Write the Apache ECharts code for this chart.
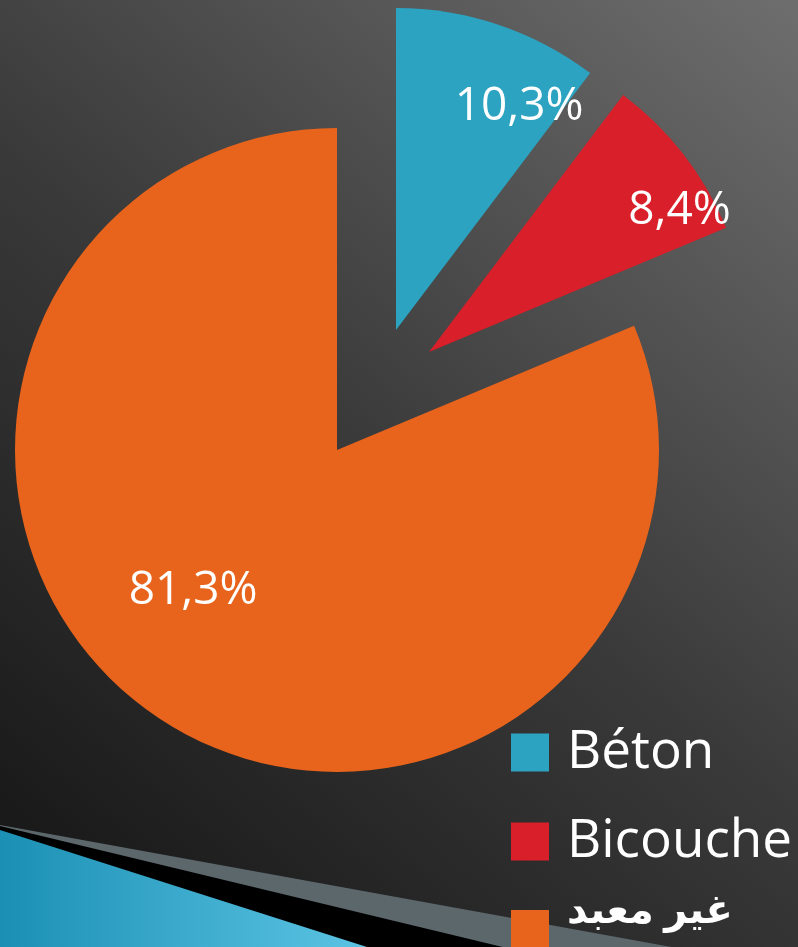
<!DOCTYPE html>
<html>
<head>
<meta charset="utf-8">
<script src="https://cdn.jsdelivr.net/npm/echarts@6/dist/echarts.min.js"></script>
<style>
html,body{margin:0;padding:0;background:#2a2a2a;}
#chart{width:798px;height:947px;}
</style>
</head>
<body>
<div id="chart"></div>
<script>
// ---- data ----
const categories = ['Béton', 'Bicouche', 'غير معبد'];
const values = [10.3, 8.4, 81.3];
const colors = ['#2ca3c1', '#d91f29', '#e8641c'];

// ---- layout (exploded slices use their own centres) ----
const sliceCenters = [[396, 330], [429, 352], [337, 450]];
const labelOffsets = [[71, -68], [121, -41], [-53, 4]];
const pieRadius = 322;
const legendTops = [726, 815, 892];
const legendFont = [53, 53, 40];
const legendTextLift = [0, 0, 34];

const fmt = v => v.toFixed(1).replace('.', ',') + '%';

const chart = echarts.init(document.getElementById('chart'), null, {renderer: 'canvas'});

const series = categories.map((cat, k) => ({
  type: 'pie',
  center: sliceCenters[k],
  radius: pieRadius,
  startAngle: 90,
  clockwise: true,
  silent: true,
  avoidLabelOverlap: false,
  animation: false,
  labelLine: {show: false},
  label: {
    position: 'inside',
    offset: labelOffsets[k],
    color: '#ffffff',
    fontSize: 46,
    fontFamily: 'Open Sans, Noto Sans, sans-serif',
    formatter: p => fmt(p.value)
  },
  emphasis: {disabled: true},
  data: categories.map((n, i) => ({
    name: n,
    value: values[i],
    itemStyle: {color: i === k ? colors[i] : 'rgba(0,0,0,0)'},
    label: {show: i === k}
  }))
}));

const legends = categories.map((n, i) => ({
  orient: 'vertical',
  left: 511,
  top: legendTops[i],
  padding: 0,
  itemWidth: 38,
  itemHeight: 38,
  icon: 'rect',
  selectedMode: false,
  formatter: '{t|{name}}',
  textStyle: {
    color: '#ffffff',
    fontSize: legendFont[i],
    fontWeight: i === 2 ? 'bold' : 'normal',
    fontFamily: 'Open Sans, DejaVu Sans, sans-serif',
    padding: [0, 0, 0, 13],
    rich: {
      t: {
        color: '#ffffff',
        fontSize: legendFont[i],
        fontWeight: i === 2 ? 'bold' : 'normal',
        fontFamily: 'Open Sans, DejaVu Sans, sans-serif',
        padding: [0, 0, legendTextLift[i], 0]
      }
    }
  },
  data: [{name: n, itemStyle: {color: colors[i]}}]
}));

chart.setOption({
  animation: false,
  backgroundColor: {
    type: 'linear', x: 0, y: 1, x2: 1, y2: 0,
    colorStops: [
      {offset: 0, color: '#131313'},
      {offset: 0.5, color: '#3a3a3a'},
      {offset: 1, color: '#6e6e6e'}
    ]
  },
  graphic: [
    {type: 'polygon', z: 0, shape: {points: [[0, 825], [798, 970], [798, 1000], [0, 1000]]},
     style: {fill: '#5c676c'}},
    {type: 'polygon', z: 0, shape: {points: [[0, 826], [540, 956], [0, 956]]},
     style: {fill: '#000000'}},
    {type: 'polygon', z: 0, shape: {points: [[0, 830], [367, 947], [0, 947]]},
     style: {fill: {type: 'linear', x: 0, y: 0, x2: 1, y2: 0,
       colorStops: [{offset: 0, color: '#1b90b4'}, {offset: 1, color: '#5cc4e4'}]}}}
  ],
  legend: legends,
  series: series
});
</script>
</body>
</html>
